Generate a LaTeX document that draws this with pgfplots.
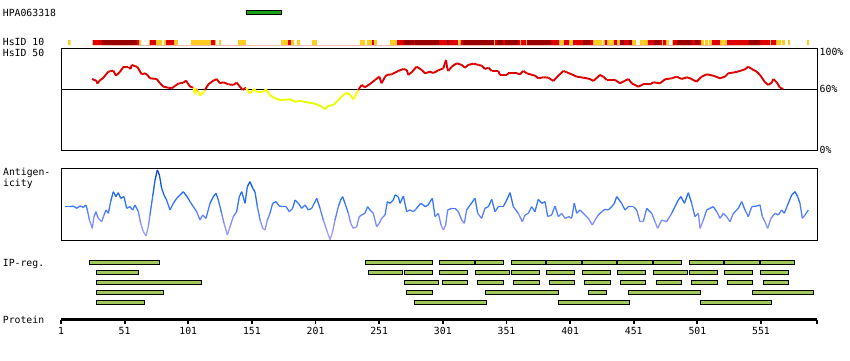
\documentclass[border=0pt]{standalone}
\usepackage{fontspec}
\setmainfont{DejaVu Sans Mono}
\usepackage{pgfplots}
\usepackage{pgfplotstable}
\pgfplotsset{compat=1.18}
\definecolor{hsY}{RGB}{255,204,34}
\definecolor{hsR}{RGB}{224,0,0}
\definecolor{hsD}{RGB}{153,0,0}
\definecolor{ipgreen}{RGB}{160,200,90}
\definecolor{hpagreen}{RGB}{26,160,26}
\pgfplotsset{
  colormap={idmap}{rgb255(0pt)=(195,255,0) rgb255(45pt)=(225,255,0) rgb255(59pt)=(255,255,0) rgb255(60pt)=(221,0,0) rgb255(100pt)=(221,0,0)},
  colormap={agmap}{rgb255(0pt)=(175,165,255) rgb255(25pt)=(130,140,255) rgb255(45pt)=(60,120,255) rgb255(70pt)=(20,100,240) rgb255(100pt)=(0,60,200)},
  track/.style={scale only axis, width=756pt, xmin=1, xmax=595, clip=false, anchor=south west},
}
\newcommand{\ipbar}[4]{\addplot[fill=ipgreen, draw=black, line width=0.8pt] coordinates {(#1,#3) (#2,#3) (#2,#4) (#1,#4)} -- cycle;}
\newcommand{\ipA}[2]{\ipbar{#1}{#2}{0.83}{1.17}}
\newcommand{\ipB}[2]{\ipbar{#1}{#2}{1.83}{2.17}}
\newcommand{\ipC}[2]{\ipbar{#1}{#2}{2.83}{3.17}}
\newcommand{\ipD}[2]{\ipbar{#1}{#2}{3.83}{4.17}}
\newcommand{\ipE}[2]{\ipbar{#1}{#2}{4.83}{5.17}}

\pgfplotstableread{
r p
25.4 69.9
29.0 68.0
29.5 65.4
31.6 68.6
34.3 71.2
38.2 77.1
42.1 78.1
44.2 73.2
47.4 77.1
50.0 81.7
53.9 81.7
55.7 79.7
56.5 83.7
61.0 81.7
64.4 74.5
67.0 75.5
68.8 73.9
70.9 70.6
76.2 69.9
78.8 65.7
81.4 62.4
85.3 61.4
88.0 60.8
90.6 63.1
93.2 65.4
97.1 66.3
99.2 68.3
101.0 65.0
102.4 62.4
105.0 61.4
106.3 55.0
107.2 60.5
108.5 58.0
110.2 53.6
112.8 56.9
114.1 59.2
116.8 64.7
120.7 68.3
123.3 69.9
125.9 65.7
128.5 66.7
132.5 64.7
136.4 64.1
139.0 66.3
141.6 62.4
143.7 59.2
146.4 61.4
149.0 55.9
150.8 57.5
152.6 60.1
154.7 57.5
160.0 57.5
162.1 59.8
165.2 54.2
169.1 51.0
173.1 49.3
180.9 50.0
184.9 47.7
188.8 48.4
194.0 47.1
199.3 46.1
203.2 44.4
205.8 42.8
208.4 40.5
211.0 43.5
215.0 44.4
218.9 49.3
222.8 54.2
225.4 56.2
228.0 54.9
230.7 50.0
232.8 54.9
234.6 59.2
237.2 64.1
239.8 61.8
243.8 65.0
247.7 69.0
251.1 72.2
252.9 65.7
255.6 72.2
256.9 73.9
260.8 74.5
263.4 76.1
266.0 77.8
270.0 79.7
272.6 78.8
273.9 73.9
276.5 76.5
280.4 82.0
284.4 78.8
287.0 75.5
290.9 77.1
293.5 75.8
297.5 78.4
301.4 80.4
303.5 88.6
304.5 80.4
305.3 77.8
308.0 82.0
311.9 85.3
315.8 83.7
318.4 81.0
321.0 83.7
325.0 85.0
328.9 83.7
331.5 83.0
334.1 79.7
336.8 81.0
339.4 77.8
344.6 77.8
345.9 73.9
351.2 73.9
352.5 75.5
359.0 75.5
361.6 74.5
364.3 77.8
366.9 75.5
369.5 74.5
373.4 73.2
376.0 70.6
380.0 71.6
383.9 71.2
387.8 68.0
391.8 73.2
395.7 77.8
398.3 76.5
402.2 74.5
406.2 72.2
411.4 71.2
416.6 69.9
419.3 68.0
424.5 73.9
427.1 72.2
429.7 69.0
436.3 69.0
440.2 65.7
442.8 67.3
446.8 69.9
449.4 65.7
454.6 62.4
458.5 64.7
463.8 64.7
466.4 66.7
471.6 65.7
475.6 69.6
480.8 70.6
484.7 72.2
488.7 69.9
492.6 71.6
495.2 70.6
500.4 67.3
504.4 72.2
508.3 74.5
513.5 73.2
518.8 70.6
522.7 72.2
525.3 75.5
530.6 76.5
534.5 77.8
538.4 79.4
541.0 82.0
543.7 79.7
547.6 77.1
550.2 73.9
554.1 66.7
556.7 64.1
559.4 66.3
560.7 69.9
563.3 66.7
565.9 61.4
568.5 60.1
}\identity

\pgfplotstableread{
r a
4.1 46.5
8.1 46.5
10.7 47.4
13.3 44.2
15.9 47.4
18.5 45.6
20.6 48.8
21.7 41.9
23.3 27.9
25.6 16.3
26.9 32.6
28.5 39.5
30.3 30.2
33.0 25.6
34.8 34.9
36.4 41.9
38.2 37.2
40.0 53.5
42.1 67.4
44.2 60.5
46.0 66.0
47.9 58.1
50.5 60.5
52.6 44.2
55.2 46.5
57.3 41.9
59.1 48.8
61.8 39.5
63.6 23.3
65.7 11.6
67.8 5.6
69.6 18.6
70.9 34.9
73.0 60.5
74.9 83.7
76.7 97.7
78.3 90.7
80.1 72.1
81.9 62.8
84.0 55.8
86.6 41.9
89.3 51.2
91.9 58.1
94.5 62.8
97.1 67.4
99.7 61.4
102.4 53.5
105.0 46.5
107.6 39.5
110.2 27.9
112.3 34.9
114.9 30.2
118.1 51.2
120.7 60.5
122.8 65.1
124.6 55.8
127.2 37.2
129.1 23.3
131.7 7.0
133.8 18.6
136.4 32.6
139.0 39.5
141.1 60.5
143.0 67.4
145.6 51.2
147.4 74.4
149.5 81.4
151.6 72.1
153.4 67.4
155.3 46.5
157.4 27.9
159.5 16.3
161.3 14.0
163.1 27.9
165.2 37.2
167.3 51.2
169.9 53.5
172.5 47.4
175.2 46.5
177.8 46.5
180.4 39.5
183.0 44.2
184.9 55.8
187.5 51.2
190.1 44.2
192.7 48.8
195.3 41.9
198.0 44.2
200.6 53.5
201.9 58.1
204.5 44.2
207.1 27.9
209.7 14.0
212.4 0.5
214.4 11.6
216.3 27.9
218.9 46.5
220.7 55.8
222.3 60.5
224.1 51.2
226.8 37.2
228.6 23.3
230.7 16.3
233.3 18.6
235.4 32.6
237.2 34.9
239.8 37.2
241.9 46.5
243.8 41.9
246.4 37.2
249.0 18.6
251.1 23.3
252.9 30.2
255.6 34.9
257.4 53.5
259.5 51.2
262.1 55.8
263.4 62.8
266.0 60.5
267.4 51.2
270.0 61.4
272.6 39.5
275.2 41.9
277.8 39.5
280.4 44.2
283.6 51.2
285.7 48.8
287.0 46.5
289.6 48.8
290.9 53.5
292.8 58.1
294.9 32.6
297.5 37.2
299.6 20.9
301.4 14.0
303.2 20.9
304.8 41.9
308.0 44.2
310.6 44.2
313.2 39.5
315.8 27.9
317.9 23.3
319.7 41.9
322.4 48.8
326.3 58.1
328.4 37.2
331.5 30.2
334.1 44.2
336.8 46.5
339.4 56.7
342.0 39.5
344.6 46.5
348.5 46.5
351.2 55.8
353.8 66.0
356.4 46.5
360.3 37.2
363.5 25.6
365.6 34.9
368.2 37.2
370.8 46.5
373.4 39.5
376.0 56.7
378.7 51.2
381.3 53.5
383.4 32.6
386.5 34.9
389.1 47.4
391.8 32.6
394.4 37.2
397.0 30.2
400.1 32.6
402.2 30.2
404.3 51.2
406.2 37.2
408.8 41.9
412.7 34.9
415.3 30.2
418.5 20.9
420.6 27.9
423.2 34.9
425.8 39.5
428.4 42.8
431.0 41.9
433.7 46.5
435.8 51.2
437.6 60.5
441.5 51.2
444.1 41.9
446.8 46.5
450.7 46.5
453.3 41.9
455.9 25.6
458.5 25.6
461.2 44.2
465.1 37.2
467.7 25.6
469.8 16.3
472.9 27.9
476.9 25.6
480.8 37.2
486.0 55.8
488.1 60.5
490.8 51.2
493.9 66.0
496.5 51.2
499.1 32.6
501.8 37.2
503.1 16.3
505.7 27.9
508.3 41.9
510.9 44.2
513.5 46.5
516.2 39.5
518.8 30.2
521.4 37.2
524.0 32.6
526.6 25.6
529.3 37.2
533.2 44.2
535.8 53.5
538.4 41.9
541.0 32.6
543.7 46.5
547.6 47.4
550.2 48.8
552.0 32.6
554.1 25.6
556.2 16.3
558.8 30.2
562.0 37.2
564.6 34.9
567.2 41.9
569.3 37.2
571.9 48.8
575.1 62.8
577.7 67.4
579.8 60.5
581.6 51.2
583.5 30.2
585.6 34.9
588.2 41.9
}\antigen

\begin{document}
\begin{tikzpicture}[font=\fontsize{9.8}{11}\selectfont]
\path[use as bounding box] (0pt,0pt) rectangle (850pt,-360pt);

% labels
\node[anchor=base west, inner sep=0pt] at (2.7pt,-16pt) {HPA063318};
\node[anchor=base west, inner sep=0pt] at (2.7pt,-45.3pt) {HsID 10};
\node[anchor=base west, inner sep=0pt] at (2.7pt,-56pt) {HsID 50};
\node[anchor=base west, inner sep=0pt] at (3pt,-175.8pt) {Antigen-};
\node[anchor=base west, inner sep=0pt] at (3pt,-186.5pt) {icity};
\node[anchor=base west, inner sep=0pt] at (2.7pt,-266.5pt) {IP-reg.};
\node[anchor=base west, inner sep=0pt] at (2.7pt,-323pt) {Protein};

% HPA antigen
\begin{axis}[track, hide axis, height=4pt, ymin=0, ymax=1, at={(61pt,-14.3pt)}]
\addplot[fill=hpagreen, draw=black, line width=0.9pt] coordinates {(146.4,0) (174.4,0) (174.4,1) (146.4,1)} -- cycle;
\end{axis}

% HsID 10 strip
\begin{axis}[track, hide axis, height=5pt, ymin=0, ymax=1, at={(61pt,-45pt)}]
\addplot[ybar interval, fill=hsY, draw=none] coordinates {(6.5,1)(8.6,0)(62.3,1)(63.9,0)(70.1,1)(70.9,0)(75.6,1)(80.4,0)(81.9,1)(83.5,0)(89.8,1)(92.9,0)(103.1,1)(118.9,0)(122.0,1)(122.8,0)(125.1,1)(126.7,0)(140.1,1)(146.4,0)(173.9,1)(179.4,0)(181.7,1)(184.1,0)(186.4,1)(188.8,0)(198.2,1)(202.1,0)(235.9,1)(239.9,0)(241.4,1)(245.4,0)(246.9,1)(249.3,0)(259.5,1)(265.0,0)(312.9,1)(315.0,0)(341.2,1)(342.0,0)(361.6,1)(362.4,0)(366.4,1)(367.2,0)(392.3,1)(396.2,0)(400.2,1)(403.3,0)(419.0,1)(426.1,0)(426.9,1)(428.4,0)(430.0,1)(435.5,0)(437.9,1)(440.2,0)(449.7,1)(452.8,0)(455.9,1)(462.2,0)(473.2,1)(474.0,0)(476.4,1)(478.7,0)(481.1,1)(481.9,0)(503.9,1)(506.2,0)(507.0,1)(509.4,0)(510.2,1)(512.5,0)(518.8,1)(524.3,0)(558.1,1)(558.9,0)(562.8,1)(566.7,0)(567.5,1)(569.9,0)(572.2,1)(573.8,0)(587.2,1)(588.7,0)};
\addplot[ybar interval, fill=hsR, draw=none] coordinates {(25.9,1)(33.2,0)(60.7,1)(62.3,0)(70.9,1)(75.6,0)(83.5,1)(89.8,0)(118.9,1)(122.0,0)(179.4,1)(181.7,0)(245.4,1)(246.9,0)(265.0,1)(270.5,0)(278.4,1)(279.1,0)(298.0,1)(304.3,0)(305.9,1)(312.9,0)(315.0,1)(316.9,0)(342.0,1)(343.6,0)(348.3,1)(349.9,0)(360.1,1)(361.6,0)(362.4,1)(366.4,0)(386.0,1)(392.3,0)(396.2,1)(400.2,0)(403.3,1)(411.2,0)(416.6,1)(419.0,0)(428.4,1)(430.0,0)(435.5,1)(437.9,0)(443.4,1)(447.3,0)(462.2,1)(466.9,0)(471.7,1)(473.2,0)(474.0,1)(476.4,0)(481.9,1)(485.0,0)(496.8,1)(499.2,0)(502.3,1)(503.9,0)(512.5,1)(518.8,0)(524.3,1)(541.6,0)(550.2,1)(558.1,0)(558.9,1)(562.8,0)};
\addplot[ybar interval, fill=hsD, draw=none] coordinates {(33.2,1)(60.7,0)(270.5,1)(278.4,0)(279.1,1)(298.0,0)(304.3,1)(305.9,0)(316.9,1)(341.2,0)(343.6,1)(348.3,0)(349.9,1)(360.1,0)(367.2,1)(386.0,0)(411.2,1)(416.6,0)(440.2,1)(443.4,0)(447.3,1)(449.7,0)(466.9,1)(471.7,0)(485.0,1)(496.8,0)(499.2,1)(502.3,0)(541.6,1)(550.2,0)};
\end{axis}

% HsID 50 identity
\begin{axis}[track, clip=true, height=102pt, ymin=0, ymax=100, at={(61pt,-150.3pt)},
  xtick=\empty, ytick={0,60,100}, yticklabels={0\%,60\%,\raisebox{-7.5pt}[0pt][0pt]{100\%}},
  ytick pos=right, yticklabel pos=right, major tick length=0pt,
  yticklabel style={anchor=west, inner xsep=2.5pt},
  axis line style={line width=0.9pt},
  point meta min=0, point meta max=100]
\addplot[black, line width=0.9pt] coordinates {(1,60) (595,60)};
\addplot[mesh, colormap name=idmap, point meta=y, line width=1.9pt] table[x=r, y=p] {\identity};
\end{axis}

% Antigenicity
\begin{axis}[track, height=71.7pt, ymin=0, ymax=100, at={(61pt,-240pt)},
  xtick=\empty, ytick=\empty, axis line style={line width=0.9pt},
  point meta min=0, point meta max=100]
\addplot[mesh, colormap name=agmap, point meta=y, line width=1.3pt] table[x=r, y=a] {\antigen};
\end{axis}

% IP regions
\begin{axis}[track, hide axis, height=50pt, ymin=0.5, ymax=5.5, y dir=reverse, at={(61pt,-307.3pt)}]
\ipA{23.2}{78.2}\ipA{240.1}{292.7}\ipA{298.2}{325.7}\ipA{326.5}{348.5}\ipA{354.8}{381.5}\ipA{382.3}{409.8}\ipA{410.6}{437.6}\ipA{438.1}{465.6}\ipA{466.4}{488.4}\ipA{494.7}{521.4}\ipA{522.2}{549.7}\ipA{550.5}{577.2}
\ipB{28.7}{61.7}\ipB{242.5}{269.2}\ipB{270.7}{292.7}\ipB{298.2}{320.2}\ipB{326.5}{353.2}\ipB{354.8}{376.8}\ipB{382.3}{404.3}\ipB{410.6}{432.6}\ipB{438.1}{460.1}\ipB{466.4}{493.1}\ipB{494.7}{516.7}\ipB{522.2}{544.2}\ipB{550.5}{572.5}
\ipC{28.7}{111.2}\ipC{270.7}{297.5}\ipC{300.6}{320.2}\ipC{328.1}{348.5}\ipC{356.4}{376.8}\ipC{384.7}{404.3}\ipC{412.2}{432.6}\ipC{440.5}{460.1}\ipC{468.7}{488.4}\ipC{496.3}{516.7}\ipC{524.5}{544.2}\ipC{552.8}{572.5}
\ipD{28.7}{81.4}\ipD{272.3}{292.7}\ipD{334.4}{391.7}\ipD{415.3}{429.5}\ipD{446.7}{503.3}\ipD{544.2}{592.1}
\ipE{28.7}{66.5}\ipE{278.6}{335.2}\ipE{391.7}{447.5}\ipE{503.3}{559.1}
\end{axis}

% Protein ruler
\begin{axis}[track, height=10pt, ymin=0, ymax=1, at={(61pt,-319.5pt)},
  axis x line*=bottom, axis y line=none,
  xtick={1,51,101,151,201,251,301,351,401,451,501,551,595},
  xticklabels={1,51,101,151,201,251,301,351,401,451,501,551,{}},
  x axis line style={line width=3.6pt},
  tick align=outside, major tick length=4.5pt,
  xtick style={black, line width=1.8pt},
  xticklabel style={anchor=north, inner sep=0pt, yshift=-3.5pt}]
\addplot[draw=none] coordinates {(1,0) (595,0)};
\end{axis}
\end{tikzpicture}
\end{document}
